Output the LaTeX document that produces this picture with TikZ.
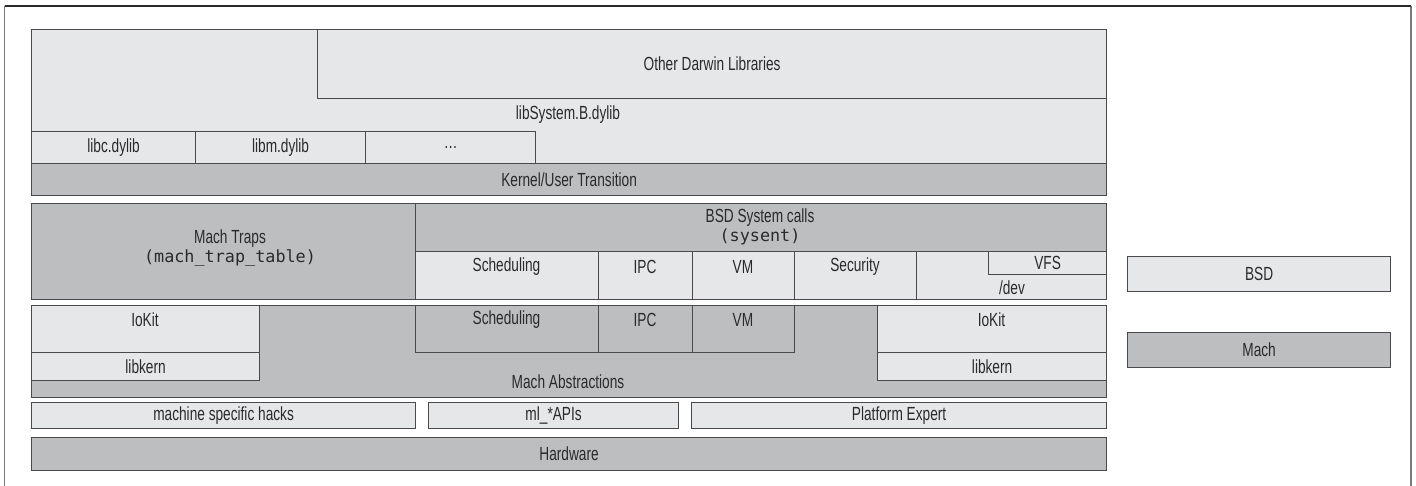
\documentclass[tikz,border=0pt]{standalone}
\usepackage{fontspec}
\setmainfont[FakeStretch=0.72]{Liberation Sans}
\newfontfamily\codefont{DejaVu Sans Mono}
\definecolor{light}{HTML}{E6E7E8}
\definecolor{dark}{HTML}{BCBEC0}
\definecolor{edge}{HTML}{4A4A4C}
\definecolor{ink}{HTML}{2A2A2A}
\definecolor{framec}{HTML}{7A7B7E}
\newcommand\bx[7]{\node[#2, minimum width={(#5-#3)*1pt}, minimum height={(#6-#4)*1pt}] (#1) at (#3,#4) {#7};}
\tikzset{
  x=1pt, y=-1pt,
  base/.style={draw=edge, line width=1.2pt, inner sep=0pt, anchor=north west, text=ink,
     font=\fontsize{19}{22}\selectfont},
  lbox/.style={base, fill=light},
  dbox/.style={base, fill=dark},
  txt/.style={inner sep=0pt, text=ink, font=\fontsize{19}{22}\selectfont},
  code/.style={inner sep=0pt, text=ink, font=\codefont\fontsize{16.8}{20}\selectfont},
  frameline/.style={draw=framec, line width=1.5pt},
}
\begin{document}
\begin{tikzpicture}
\useasboundingbox (0,0) rectangle (1416,486);
% frame
\coordinate (f1) at (4.5,486);
\coordinate (f2) at (4.5,6);
\coordinate (f3) at (1411,6);
\coordinate (f4) at (1411,486);
\draw[frameline] (f1) -- (f2);
\draw[frameline] (f3) -- (f4);
\draw[draw=ink, line width=1.5pt] (f2) -- (f3);

% user space
\bx{libsys}{lbox}{31}{29}{1106}{163}{}
\bx{darwin}{lbox}{317}{29}{1106}{98}{Other Darwin Libraries}
\node[txt] (libsyslbl) at (568,115) {libSystem.B.dylib};
\bx{libc}{lbox}{31}{131}{195}{163}{libc.dylib}
\bx{libm}{lbox}{195}{131}{365}{163}{libm.dylib}
\bx{dots}{lbox}{365}{131}{535}{163}{\ldots}
\bx{kut}{dbox}{31}{163}{1106}{195}{Kernel/User Transition}

% traps / syscalls
\bx{traps}{dbox}{31}{203}{415}{299}{}
\node[txt] (trapslbl) at (230,239) {Mach Traps};
\node[code] (trapscode) at (230,258) {(mach\_trap\_table)};
\bx{bsd}{dbox}{415}{203}{1106}{299}{}
\node[txt] (bsdlbl) at (760,218) {BSD System calls};
\node[code] (bsdcode) at (760,237) {(sysent)};
\bx{bsched}{lbox}{415}{251}{598}{299}{}
\bx{bipc}{lbox}{598}{251}{692}{299}{}
\bx{bvm}{lbox}{692}{251}{794}{299}{}
\bx{bsec}{lbox}{794}{251}{916}{299}{}
\bx{bdev}{lbox}{916}{251}{1106}{299}{}
\bx{bvfs}{lbox}{988}{251}{1106}{274}{VFS}
\node[txt] (bschedl) at (506.5,267) {Scheduling};
\node[txt] (bipcl) at (645,267) {IPC};
\node[txt] (bvml) at (743,267) {VM};
\node[txt] (bsecl) at (855,267) {Security};
\node[txt] (bdevl) at (1012,288) {/dev};

% mach abstractions
\bx{mach}{dbox}{31}{305}{1106}{397}{}
\node[txt] (machl) at (568,382) {Mach Abstractions};
\bx{iokl}{lbox}{31}{305}{259}{352}{}
\node[txt] (iokll) at (145,320) {IoKit};
\bx{libkl}{lbox}{31}{352}{259}{380}{libkern}
\bx{msched}{dbox}{415}{305}{598}{352}{}
\bx{mipc}{dbox}{598}{305}{692}{352}{}
\bx{mvm}{dbox}{692}{305}{794}{352}{}
\node[txt] (mschedl) at (506.5,320) {Scheduling};
\node[txt] (mipcl) at (645,320) {IPC};
\node[txt] (mvml) at (743,320) {VM};
\bx{iokr}{lbox}{877}{305}{1106}{352}{}
\node[txt] (iokrl) at (991.5,320) {IoKit};
\bx{libkr}{lbox}{877}{352}{1106}{380}{libkern}

% machine layer
\bx{hacks}{lbox}{31}{402}{415}{428}{machine specific hacks}
\bx{mlapi}{lbox}{428}{402}{678}{428}{ml\_*APIs}
\bx{pexp}{lbox}{691}{402}{1106}{428}{Platform Expert}
\bx{hw}{dbox}{31}{437}{1106}{470}{Hardware}

% legend
\bx{legbsd}{lbox}{1127}{256}{1390}{291}{BSD}
\bx{legmach}{dbox}{1127}{332}{1390}{367}{Mach}
\end{tikzpicture}
\end{document}
